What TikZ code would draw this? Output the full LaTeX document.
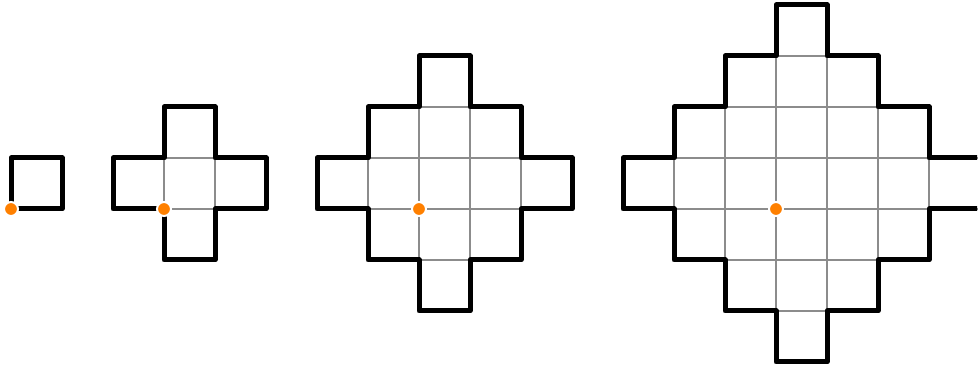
\documentclass[tikz,border=0pt]{standalone}
\definecolor{dotorange}{RGB}{255,128,0}
\definecolor{gridgray}{RGB}{140,140,140}
\tikzset{
  outline/.style={line width=5pt, line join=round, line cap=round, draw=black},
  cellgrid/.style={draw=gridgray, line width=1.4pt},
  dotstyle/.style={circle, fill=dotorange, draw=white, line width=2pt, inner sep=0pt, minimum size=14pt}
}
\newcommand\azoutline[2]{%
  \draw[outline] (#1-#2,0) -- ++(0,1)
    \foreach \k in {1,...,#2}{ -- ++(1,0) -- ++(0,1)} -- ++(1,0)
    \foreach \k in {1,...,#2}{ -- ++(0,-1) -- ++(1,0)} -- ++(0,-1)
    \foreach \k in {1,...,#2}{ -- ++(-1,0) -- ++(0,-1)} -- ++(-1,0)
    \foreach \k in {1,...,#2}{ -- ++(0,1) -- ++(-1,0)} -- cycle;}
\newcommand\azgrid[2]{%
  \foreach \j in {-#2,...,#2}{%
    \pgfmathtruncatemacro\mm{#2-abs(\j)}%
    \foreach \i in {-\mm,...,\mm}{%
      \draw[cellgrid] (#1+\i,\j) rectangle ++(1,1);}}}
\begin{document}
\begin{tikzpicture}[x=51pt,y=51pt]
\useasboundingbox (-11pt,-160pt) rectangle (967pt,209pt);
% grids
\azgrid{3}{1}
\azgrid{8}{2}
\azgrid{15}{3}
% outlines
\begin{scope}
  \clip (-20pt,-200pt) rectangle (966pt,250pt);
  \draw[outline] (0,0) rectangle (1,1);
  \azoutline{3}{1}
  \azoutline{8}{2}
  \azoutline{15}{3}
\end{scope}
% dots
\node[dotstyle] (d1) at (0,0) {};
\node[dotstyle] (d2) at (3,0) {};
\node[dotstyle] (d3) at (8,0) {};
\node[dotstyle] (d4) at (15,0) {};
\end{tikzpicture}
\end{document}
